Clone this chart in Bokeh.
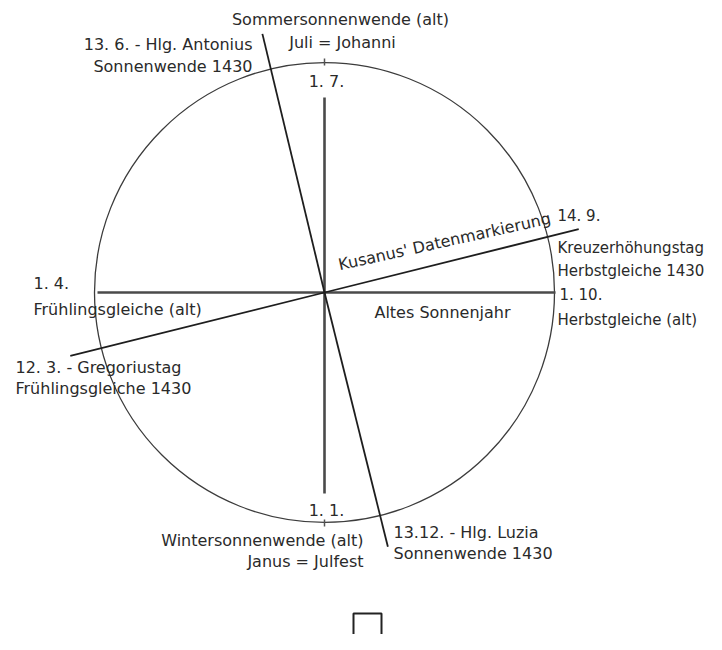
import numpy as np
from bokeh.plotting import figure
from bokeh.models import Range1d, ColumnDataSource
from bokeh.core.properties import value
from bokeh.embed import file_html
from bokeh.resources import INLINE

# ---- data ----
# old (Julian) quarter days: label, direction (deg), arm length
old_dates = ["1. 7.", "1. 10.", "1. 1.", "1. 4."]
old_angles = [90, 0, 270, 180]
old_lengths = [195, 231, 201, 227]

# shifted dates of 1430 (Kusanus' markings)
new_dates = ["13. 6.", "14. 9.", "13.12.", "12. 3."]
new_angles = [103.5, 14, 284, 194]
new_lengths = [266, 262, 262, 262]

circle_radius = 230

label_texts = [
    "Sommersonnenwende (alt)", "Juli = Johanni",
    "13. 6. - Hlg. Antonius", "Sonnenwende 1430",
    "1. 7.",
    "1. 4.", "Frühlingsgleiche (alt)",
    "12. 3. - Gregoriustag", "Frühlingsgleiche 1430",
    "Altes Sonnenjahr",
    "1. 1.", "Wintersonnenwende (alt)", "Janus = Julfest",
    "13.12. - Hlg. Luzia", "Sonnenwende 1430",
]
right_texts = ["14. 9.", "Kreuzerhöhungstag", "Herbstgleiche 1430", "1. 10.", "Herbstgleiche (alt)"]
rotated_label = "Kusanus' Datenmarkierung"

# ---- layout (positions relative to the circle centre) ----
label_x = [16, 18, -72, -72, 2, -291, -291, -309, -309, 118, 2, 39, 39, 69, 69]
label_y = [273, 250, 248, 226, 211, 9, -17, -75, -96, -20, -218, -248, -269, -240, -261]
label_align = ["center", "center", "right", "right", "center", "left", "left", "left", "left",
               "center", "center", "right", "right", "left", "left"]
right_x = [233, 233, 233, 235, 233]
right_y = [77, 45, 22, -2, -27]

p = figure(width=706, height=634, x_range=Range1d(-324, 382), y_range=Range1d(-342, 292),
           output_backend="svg", toolbar_location=None, x_axis_type=None, y_axis_type=None,
           min_border=0)
p.outline_line_color = None
p.background_fill_color = "white"
p.border_fill_color = "white"

# circle
p.circle(x=[0], y=[0], radius=circle_radius, fill_color=None, line_color="#3c3c3c", line_width=1.3)

# small ticks at top and bottom of circle
tick_a = np.radians([90, 270])
p.segment(x0=(circle_radius - 3) * np.cos(tick_a), y0=(circle_radius - 3) * np.sin(tick_a),
          x1=(circle_radius + 4) * np.cos(tick_a), y1=(circle_radius + 4) * np.sin(tick_a),
          line_color="#555555", line_width=1.5)

# old axes
oa = np.radians(old_angles)
ol = np.array(old_lengths)
p.segment(x0=np.zeros(4), y0=np.zeros(4), x1=ol * np.cos(oa), y1=ol * np.sin(oa),
          line_color="#4a4a4a", line_width=2.6)

# new (1430) axes
na = np.radians(new_angles)
nl = np.array(new_lengths)
p.segment(x0=np.zeros(4), y0=np.zeros(4), x1=nl * np.cos(na), y1=nl * np.sin(na),
          line_color="#1e1e1e", line_width=1.8)

font = value("DejaVu Sans")
src = ColumnDataSource(dict(x=label_x, y=label_y, t=label_texts, a=label_align))
p.text(x="x", y="y", text="t", text_align="a", text_baseline="middle", source=src,
       text_font=font, text_font_size="16px", text_color="#2a2a2a")

src_r = ColumnDataSource(dict(x=right_x, y=right_y, t=right_texts))
p.text(x="x", y="y", text="t", text_align="left", text_baseline="middle", source=src_r,
       text_font=font, text_font_size="15px", text_color="#2a2a2a")

# rotated label along Kusanus' line
p.text(x=[120], y=[51], text=[rotated_label],
       angle=np.radians(12.5), text_align="center", text_baseline="middle",
       text_font=font, text_font_size="16px", text_color="#2a2a2a")

# box glyph at the bottom
p.quad(left=[29], right=[57], top=[-321], bottom=[-370], fill_color=None,
       line_color="#222222", line_width=2)

open("out.html", "w").write(file_html(p, INLINE))
